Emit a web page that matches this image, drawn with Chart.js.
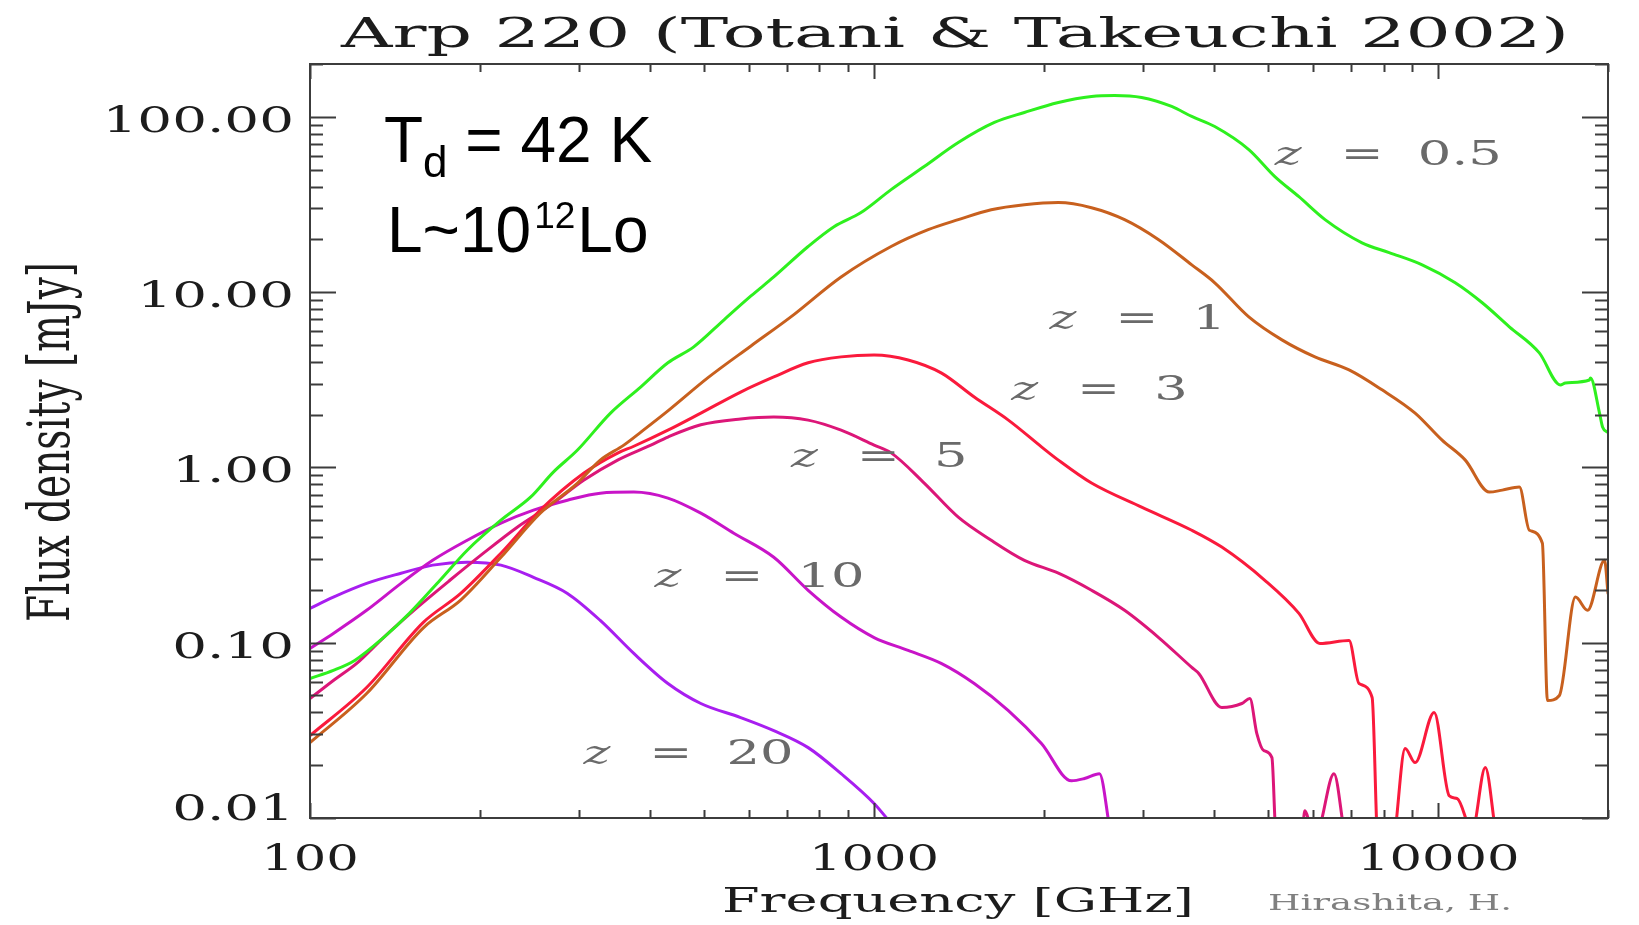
<!DOCTYPE html>
<html><head><meta charset="utf-8">
<script src="https://cdn.jsdelivr.net/npm/chart.js@4.4.1/dist/chart.umd.min.js"></script>
<style>html,body{margin:0;padding:0;background:#fff;overflow:hidden}canvas{display:block}</style>
</head><body>
<canvas id="c" width="1639" height="925"></canvas>
<script>
// ---------- text ----------
const titleText = 'Arp 220 (Totani & Takeuchi 2002)';
const xTitleText = 'Frequency [GHz]';
const yTitleText = 'Flux density [mJy]';
const creditText = 'Hirashita, H.';

// ---------- axes ----------
const xMin = 100, xMax = 20000;
const yMin = 0.01, yMax = 200;
const xTickValues = [100, 1000, 10000];
const xTickLabels = ['100', '1000', '10000'];
const yTickValues = [0.01, 0.1, 1, 10, 100];
const yTickLabels = ['0.01', '0.10', '1.00', '10.00', '100.00'];

// ---------- series ----------
const seriesNames = ['z = 0.5', 'z = 1', 'z = 3', 'z = 5', 'z = 10', 'z = 20'];
const seriesValueText = ['0.5', '1', '3', '5', '10', '20'];

const freq_z05 = [100,110,120,135,150,170,190,218,246,270,298,341,386,431,479,542,605,664,764,849,948,1072,1227,1410,1634,1847,2122,2429,2669,2980,3369,3657,4017,4616,5134,5664,6301,7328,8185,9367,10720,11970,13370,15110,16470,16810,18540,18620,19320,19560,20000];
const flux_z05 = [0.0625,0.0695,0.0792,0.107,0.147,0.227,0.337,0.500,0.676,0.940,1.256,2.04,2.88,3.95,4.87,6.95,9.5,12.2,18.2,23.6,28.4,38.4,52.0,71.3,92.8,105.8,120.7,130.6,132.3,128.9,114.5,100.4,88.0,65.0,45.6,35.0,25.9,19.1,16.8,14.3,11.3,8.69,6.34,4.50,2.95,3.03,3.15,3.24,2.04,1.70,1.58];

const freq_z1 = [100,126,159,185,218,256,298,327,360,386,431,507,605,712,874,1072,1247,1410,1613,1847,2122,2429,2780,3195,3657,4017,4616,5284,6046,6950,7952,9101,10160,11170,12320,12990,13930,14510,15300,15620,16400,17510,18400,19720,20000];
const flux_z1 = [0.0269,0.0513,0.122,0.175,0.307,0.548,0.814,1.10,1.34,1.59,2.10,3.24,4.93,7.22,12.2,18.2,22.7,25.9,29.5,31.5,32.4,30.3,25.9,19.9,14.3,11.3,7.22,5.34,4.27,3.60,2.77,2.04,1.43,1.10,0.723,0.742,0.772,0.438,0.369,0.0468,0.050,0.182,0.153,0.295,0.191];

const freq_z3 = [100,126,159,185,218,256,306,351,375,431,493,580,664,764,874,1000,1149,1315,1505,1730,1980,2122,2429,2980,3657,4134,4928,5664,6172,6950,7238,7636,7825,8285,8738,9101,9837,10460,10810,11490,12120,12630];
const flux_z3 = [0.0295,0.0555,0.131,0.191,0.324,0.570,0.928,1.207,1.32,1.63,2.04,2.69,3.28,3.95,4.27,4.38,4.10,3.46,2.52,1.86,1.31,1.10,0.814,0.593,0.438,0.351,0.227,0.147,0.099,0.103,0.0585,0.0487,0.007,0.007,0.0249,0.0207,0.040,0.0134,0.0129,0.0085,0.0194,0.0085];

const freq_z5 = [100,110,121,135,155,177,203,233,267,306,351,402,431,493,580,664,764,874,1000,1072,1227,1410,1613,1847,2122,2429,2780,3195,3657,3763,4134,4487,4636,4770,4908,5073,5156,5734,5805,5924,6097,6535,6807];
const flux_z5 = [0.048,0.0609,0.0762,0.107,0.159,0.227,0.324,0.456,0.609,0.846,1.10,1.34,1.49,1.75,1.89,1.94,1.86,1.63,1.34,1.21,0.814,0.520,0.384,0.295,0.249,0.199,0.153,0.107,0.0723,0.0668,0.0427,0.045,0.048,0.0303,0.0242,0.0221,0.0085,0.0085,0.011,0.0093,0.0085,0.0179,0.0085];

const freq_z10 = [100,110,126,145,165,190,218,249,286,327,375,431,493,564,664,764,874,1000,1149,1315,1505,1730,1980,2239,2360,2509,2620];
const flux_z10 = [0.0928,0.113,0.153,0.218,0.295,0.384,0.481,0.570,0.650,0.713,0.723,0.668,0.548,0.421,0.307,0.199,0.140,0.107,0.0904,0.0762,0.0585,0.041,0.0266,0.0163,0.0168,0.0179,0.0085];

const freq_z20 = [100,110,126,145,165,190,218,249,286,327,375,431,493,580,664,764,874,1000,1072];
const flux_z20 = [0.157,0.182,0.218,0.249,0.277,0.288,0.277,0.236,0.191,0.134,0.0868,0.0585,0.045,0.0374,0.0315,0.0252,0.0179,0.0121,0.0093];

// curve-label anchors (data coordinates: frequency, flux)
const labelFreq = [5134, 2046, 1751, 712, 408, 305.5];
const labelFlux = [53.4, 6.17, 2.42, 1.004, 0.207, 0.0204];

const seriesColors = ['#2ef01e', '#c8601e', '#fa1a3c', '#dc1678', '#c814c8', '#a81ef0'];

const allFreq = [freq_z05, freq_z1, freq_z3, freq_z5, freq_z10, freq_z20];
const allFlux = [flux_z05, flux_z1, flux_z3, flux_z5, flux_z10, flux_z20];

const datasets = seriesNames.map((name, i) => ({
  label: name,
  data: allFreq[i].map((f, k) => ({x: f, y: allFlux[i][k]})),
  borderColor: seriesColors[i],
  backgroundColor: seriesColors[i],
  borderWidth: 3,
  pointRadius: 0,
  fill: false,
  cubicInterpolationMode: 'monotone',
  clip: 1
}));

const SERIF = '"DejaVu Serif", "Liberation Serif", serif';
const SANS = '"Liberation Sans", Arial, sans-serif';

function drawStretched(ctx, text, x, y, font, color, align, opts) {
  ctx.save();
  ctx.font = font;
  ctx.fillStyle = color;
  ctx.textAlign = 'left';
  ctx.textBaseline = 'alphabetic';
  const w = ctx.measureText(text).width;
  const s = opts.width ? opts.width / w : (opts.sx || 1);
  let x0 = x;
  if (align === 'center') x0 = x - w * s / 2;
  else if (align === 'right') x0 = x - w * s;
  ctx.translate(x0, y);
  ctx.scale(s, 1);
  ctx.fillText(text, 0, 0);
  ctx.restore();
}

const idlFrame = {
  id: 'idlFrame',
  afterDatasetsDraw(chart) {
    const {ctx, chartArea: a, scales} = chart;
    const xs = scales.x, ys = scales.y;
    ctx.save();
    ctx.strokeStyle = '#3c3c3c';
    ctx.lineWidth = 2;
    ctx.strokeRect(a.left, a.top, a.right - a.left, a.bottom - a.top);
    ctx.beginPath();
    // x ticks (bottom & top, pointing inward)
    for (let d = 100; d <= xMax; d *= 10) {
      for (let m = 1; m <= 9; m++) {
        const v = d * m;
        if (v < xMin || v > xMax) continue;
        const px = Math.round(xs.getPixelForValue(v)) + 0.5;
        const len = m === 1 ? 15 : 8;
        ctx.moveTo(px, a.bottom); ctx.lineTo(px, a.bottom - len);
        ctx.moveTo(px, a.top); ctx.lineTo(px, a.top + len);
      }
    }
    // y ticks (left & right)
    for (let d = 0.01; d <= yMax * 1.0001; d *= 10) {
      for (let m = 1; m <= 9; m++) {
        const v = d * m;
        if (v < yMin * 0.999 || v > yMax * 1.0001) continue;
        const py = Math.round(ys.getPixelForValue(v)) + 0.5;
        const len = m === 1 ? 26 : 13;
        ctx.moveTo(a.left, py); ctx.lineTo(a.left + len, py);
        ctx.moveTo(a.right, py); ctx.lineTo(a.right - len, py);
      }
    }
    ctx.stroke();
    ctx.restore();

    const ink = '#1c1c1c';
    // tick labels
    xTickValues.forEach((v, i) => {
      drawStretched(ctx, xTickLabels[i], xs.getPixelForValue(v), 870, '36px ' + SERIF, ink, 'center', {sx: 1.42});
    });
    yTickValues.forEach((v, i) => {
      const py = i === 0 ? 820 : ys.getPixelForValue(v) + 15;
      drawStretched(ctx, yTickLabels[i], 294, py, '36px ' + SERIF, ink, 'right', {sx: 1.52});
    });

    // titles
    drawStretched(ctx, titleText, 955, 47, '41px ' + SERIF, ink, 'center', {width: 1228});
    drawStretched(ctx, xTitleText, 958, 912, '33px ' + SERIF, ink, 'center', {width: 472});
    drawStretched(ctx, creditText, 1268, 910, '23px ' + SERIF, '#808080', 'left', {width: 244});

    ctx.save();
    ctx.font = '38px ' + SERIF;
    ctx.fillStyle = ink;
    const wy = ctx.measureText(yTitleText).width;
    ctx.translate(69, 442);
    ctx.rotate(-Math.PI / 2);
    ctx.scale(360 / wy, 1.5);
    ctx.textBaseline = 'alphabetic';
    ctx.fillText(yTitleText, -wy / 2, 0);
    ctx.restore();

    // curve labels
    seriesNames.forEach((name, i) => {
      const px = xs.getPixelForValue(labelFreq[i]);
      const py = ys.getPixelForValue(labelFlux[i]);
      ctx.save();
      ctx.fillStyle = '#6a6a6a';
      ctx.translate(px, py);
      ctx.save(); ctx.scale(1.5, 1);
      ctx.font = 'italic 34px ' + SERIF;
      ctx.fillText('z', 0, 0);
      ctx.restore();
      ctx.save(); ctx.translate(66, 0); ctx.scale(1.5, 1);
      ctx.font = '34px ' + SERIF;
      ctx.fillText('=', 0, 0);
      ctx.restore();
      ctx.save(); ctx.translate(143, 0); ctx.scale(1.55, 1);
      ctx.font = '34px ' + SERIF;
      ctx.fillText(seriesValueText[i], 0, 0);
      ctx.restore();
      ctx.restore();
    });

    // annotation
    ctx.save();
    ctx.fillStyle = '#000';
    ctx.textBaseline = 'alphabetic';
    let cx = 384;
    ctx.font = '64px ' + SANS; ctx.fillText('T', cx, 162); cx += ctx.measureText('T').width;
    ctx.font = '44px ' + SANS; ctx.fillText('d', cx, 177); cx += ctx.measureText('d').width;
    ctx.font = '64px ' + SANS; ctx.fillText(' = 42 K', cx, 162);
    cx = 387;
    ctx.font = '64px ' + SANS; ctx.fillText('L~10', cx, 252); cx += ctx.measureText('L~10').width + 3;
    ctx.font = '37px ' + SANS; ctx.fillText('12', cx, 228); cx += ctx.measureText('12').width + 2;
    ctx.font = '64px ' + SANS; ctx.fillText('Lo', cx, 252);
    ctx.restore();
  }
};

new Chart(document.getElementById('c'), {
  type: 'line',
  data: {datasets},
  options: {
    responsive: false,
    animation: false,
    devicePixelRatio: 1,
    layout: {padding: {left: 310, right: 31, top: 64, bottom: 107}},
    scales: {
      x: {type: 'logarithmic', min: xMin, max: xMax, display: false},
      y: {type: 'logarithmic', min: yMin, max: yMax, display: false}
    },
    plugins: {legend: {display: false}, tooltip: {enabled: false}, title: {display: false}},
    elements: {line: {borderCapStyle: 'round', borderJoinStyle: 'round'}}
  },
  plugins: [idlFrame]
});
</script>
</body></html>
